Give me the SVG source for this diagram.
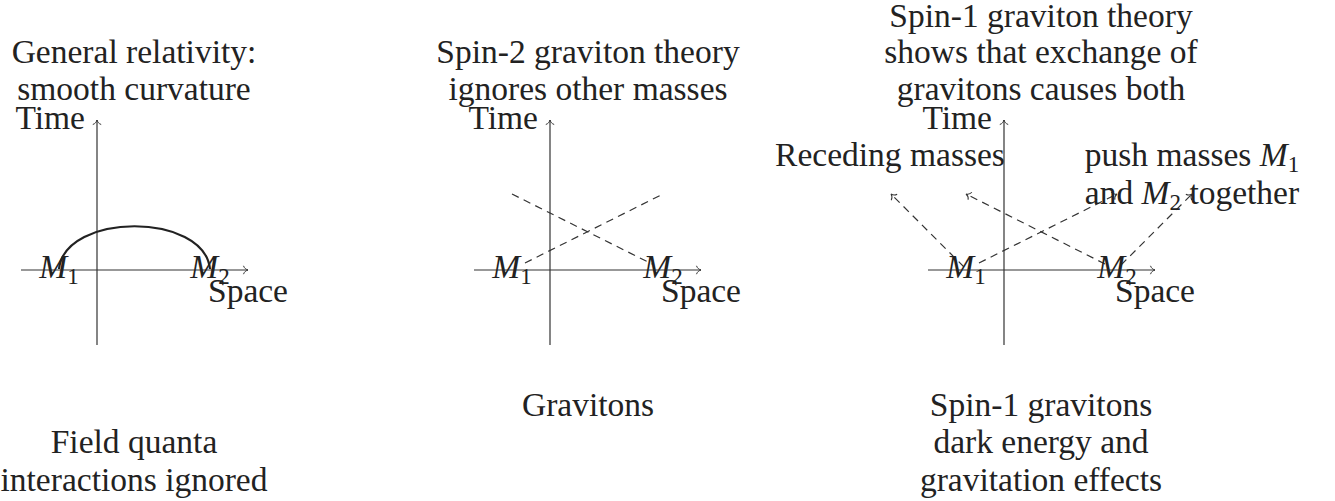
<svg xmlns="http://www.w3.org/2000/svg" width="1335" height="501" viewBox="0 0 1335 501">
<style>
text{font-family:"Liberation Serif","Times New Roman",serif;font-size:33.5px;fill:#222}
.c{text-anchor:middle}
.e{text-anchor:end}
.i{font-style:italic}
.s{font-size:23px}
.ax{stroke:#333;stroke-width:1.2;fill:none}
.d{stroke:#333;stroke-width:1.2;fill:none;stroke-dasharray:7.5 5.5}
.arc{stroke:#222;stroke-width:2.2;fill:none}
</style>
<defs>
<marker id="ar" markerUnits="userSpaceOnUse" markerWidth="12" markerHeight="12" viewBox="-8 -6 10 12" refX="0" refY="0" orient="auto">
<path d="M -4.5 -4.2 C -3.8 -1.8 -1.6 -0.4 0 0 C -1.6 0.4 -3.8 1.8 -4.5 4.2" fill="none" stroke="#333" stroke-width="1" stroke-dasharray="none"/>
</marker>
</defs>

<g id="connectors">
<path class="ax" d="M 21 270 H 248" marker-end="url(#ar)"/>
<path class="ax" d="M 97 345 V 120" marker-end="url(#ar)"/>
<path class="arc" d="M 59 269 C 65 212 204 212 210 269"/>
<path class="ax" d="M 474 270 H 701" marker-end="url(#ar)"/>
<path class="ax" d="M 550 345 V 120" marker-end="url(#ar)"/>
<path class="d" d="M 525 263 L 663 194"/>
<path class="d" d="M 512 194 L 652 264"/>
<path class="ax" d="M 928 270 H 1155" marker-end="url(#ar)"/>
<path class="ax" d="M 1004 345 V 120" marker-end="url(#ar)"/>
<path class="d" d="M 964 267 L 891 194" marker-end="url(#ar)"/>
<path class="d" d="M 979 263 L 1117 194" marker-end="url(#ar)"/>
<path class="d" d="M 1105 264 L 966 194" marker-end="url(#ar)"/>
<path class="d" d="M 1121 265 L 1192 194" marker-end="url(#ar)"/>
</g>

<g id="panel1">
<text class="c" x="134" y="63">General relativity:</text>
<text class="c" x="134" y="100">smooth curvature</text>
<text class="e" x="85" y="129">Time</text>
<text class="c" x="248" y="302">Space</text>
<text class="c" x="59" y="278"><tspan class="i">M</tspan><tspan class="s" dy="6">1</tspan></text>
<text class="c" x="210" y="278"><tspan class="i">M</tspan><tspan class="s" dy="6">2</tspan></text>
<text class="c" x="134" y="453">Field quanta</text>
<text class="c" x="134" y="491">interactions ignored</text>
</g>

<g id="panel2">
<text class="c" x="588" y="63">Spin-2 graviton theory</text>
<text class="c" x="588" y="100">ignores other masses</text>
<text class="e" x="538" y="129">Time</text>
<text class="c" x="701" y="302">Space</text>
<text class="c" x="512" y="278"><tspan class="i">M</tspan><tspan class="s" dy="6">1</tspan></text>
<text class="c" x="663" y="278"><tspan class="i">M</tspan><tspan class="s" dy="6">2</tspan></text>
<text class="c" x="588" y="416">Gravitons</text>
</g>

<g id="panel3">
<text class="c" x="1041" y="27">Spin-1 graviton theory</text>
<text class="c" x="1041" y="63">shows that exchange of</text>
<text class="c" x="1041" y="100">gravitons causes both</text>
<text class="e" x="992" y="129">Time</text>
<text class="c" x="1155" y="302">Space</text>
<text class="c" x="966" y="278"><tspan class="i">M</tspan><tspan class="s" dy="6">1</tspan></text>
<text class="c" x="1117" y="278"><tspan class="i">M</tspan><tspan class="s" dy="6">2</tspan></text>
<text class="c" x="890" y="166">Receding masses</text>
<text class="c" x="1192" y="166">push masses <tspan class="i">M</tspan><tspan class="s" dy="6">1</tspan></text>
<text class="c" x="1192" y="204">and <tspan class="i">M</tspan><tspan class="s" dy="6">2</tspan><tspan dy="-6"> together</tspan></text>
<text class="c" x="1041" y="416">Spin-1 gravitons</text>
<text class="c" x="1041" y="453">dark energy and</text>
<text class="c" x="1041" y="491">gravitation effects</text>
</g>
</svg>
